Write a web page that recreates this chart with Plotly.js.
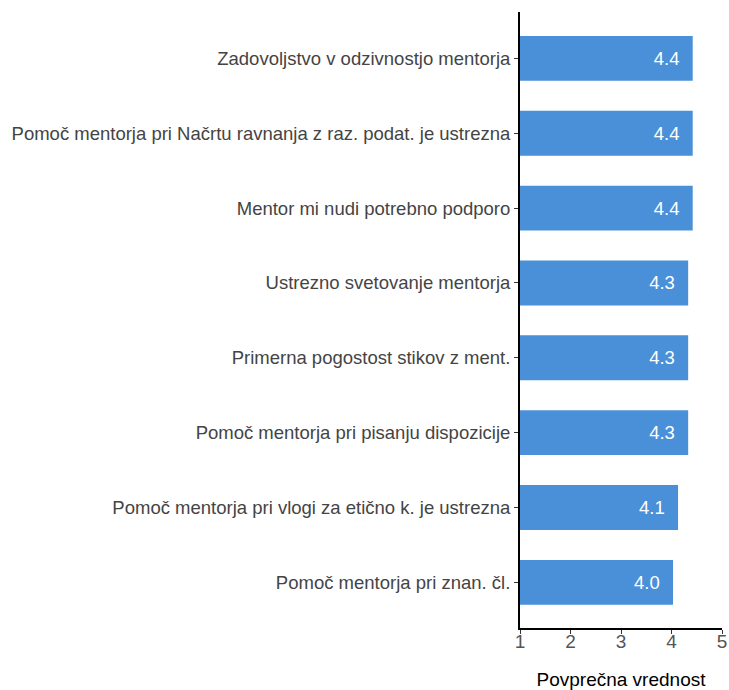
<!DOCTYPE html>
<html>
<head>
<meta charset="utf-8">
<script src="https://cdn.plot.ly/plotly-3.0.1.min.js"></script>
<style>html,body{margin:0;padding:0;background:#fff;}#chart{width:729px;height:690px;}</style>
</head>
<body>
<div id="chart"></div>
<script>
const categories = [
  "Zadovoljstvo v odzivnostjo mentorja",
  "Pomoč mentorja pri Načrtu ravnanja z raz. podat. je ustrezna",
  "Mentor mi nudi potrebno podporo",
  "Ustrezno svetovanje mentorja",
  "Primerna pogostost stikov z ment.",
  "Pomoč mentorja pri pisanju dispozicije",
  "Pomoč mentorja pri vlogi za etično k. je ustrezna",
  "Pomoč mentorja pri znan. čl."
];
const values = [4.42, 4.42, 4.42, 4.33, 4.33, 4.33, 4.13, 4.03];
const labels = values.map(v => v.toFixed(1) + "\u00a0\u00a0");

const trace = {
  type: "bar",
  orientation: "h",
  y: categories,
  x: values,
  text: labels,
  textposition: "inside",
  insidetextanchor: "end",
  textfont: {family: "Liberation Sans, Arial, sans-serif", size: 18.5, color: "#ffffff"},
  marker: {color: "#4a90d9"},
  width: 0.6,
  hoverinfo: "none",
  cliponaxis: true
};

const layout = {
  width: 729, height: 690,
  margin: {l: 520, r: 7, t: 12, b: 62},
  paper_bgcolor: "#ffffff",
  plot_bgcolor: "#ffffff",
  showlegend: false,
  font: {family: "Liberation Sans, Arial, sans-serif", size: 18.5, color: "#444444"},
  xaxis: {
    range: [1, 5],
    tickvals: [1, 2, 3, 4, 5],
    showgrid: false, zeroline: false,
    showline: true, linecolor: "#000000", linewidth: 2,
    ticks: "outside", ticklen: 4, tickcolor: "#333333", tickwidth: 1,
    ticklabelstandoff: -9,
    tickfont: {size: 19, color: "#555555"},
    title: {text: "Povprečna vrednost", font: {size: 19, color: "#000000"}, standoff: 37}
  },
  yaxis: {
    categoryorder: "array", categoryarray: categories,
    range: [7.61, -0.62],
    showgrid: false, zeroline: false,
    showline: true, linecolor: "#000000", linewidth: 2,
    ticks: "outside", ticklen: 4, tickcolor: "#333333", tickwidth: 1,
    tickfont: {size: 18.5, color: "#444444"},
    automargin: false
  }
};

Plotly.newPlot("chart", [trace], layout, {displayModeBar: false, staticPlot: true});
</script>
</body>
</html>
